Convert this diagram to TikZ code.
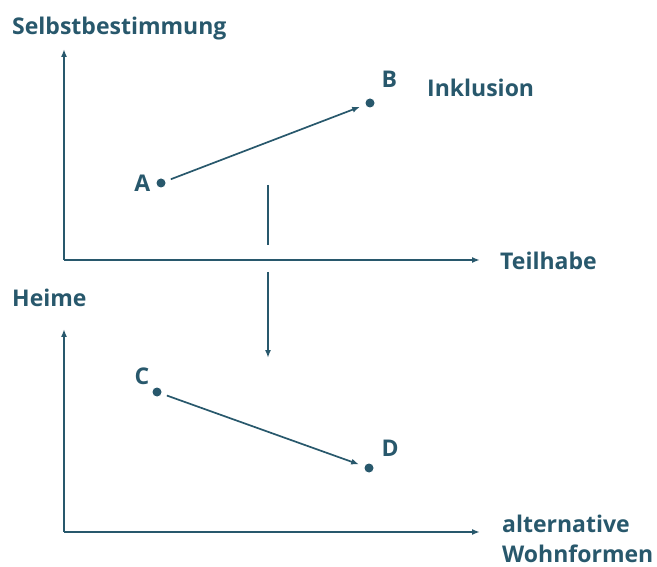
\documentclass[tikz,border=0pt]{standalone}
\usepackage{fontspec}
\setmainfont{Open Sans}
\usetikzlibrary{arrows.meta,positioning}
\definecolor{tealink}{RGB}{40,88,108}

\begin{document}
\begin{tikzpicture}[x=1pt, y=-1pt,
  font=\bfseries\fontsize{23}{30}\selectfont, color=tealink,
  axis/.style={-{Latex[length=8pt,width=6pt]}, line width=2pt, color=tealink},
  arr/.style={-{Latex[length=8pt,width=6pt]}, line width=1.7pt, color=tealink},
  dot/.style={circle, fill=tealink, inner sep=0pt, minimum size=9pt, outer sep=6pt},
  txt/.style={inner sep=0pt, anchor=west, text=tealink}]
\useasboundingbox (0,0) rectangle (657,567);
% upper diagram
\coordinate (O1) at (64,260);
\coordinate (Y1) at (64,49);
\coordinate (X1) at (480,260);
\draw[axis] (O1) -- (Y1);
\draw[axis] (O1) -- (X1);
\node[txt] (self) at (12,29) {Selbstbestimmung};
\node[txt] (teil) at (500,261) {Teilhabe};
\node[txt] (inkl) at (427,88) {Inklusion};
\node[dot, label={[inner sep=0pt]left=17pt:A}] (A) at (161,183) {};
\node[dot, label={[inner sep=0pt, xshift=4pt, yshift=8pt]above right=6pt:B}] (B) at (370,103) {};
\draw[arr] (A) -- (B);
% transition
\coordinate (T1) at (268,185);
\coordinate (T2) at (268,245);
\coordinate (T3) at (268,272);
\coordinate (T4) at (268,358);
\draw[line width=1.7pt] (T1) -- (T2);
\draw[arr] (T3) -- (T4);
% lower diagram
\coordinate (O2) at (64,532);
\coordinate (Y2) at (64,329);
\coordinate (X2) at (480,532);
\draw[axis] (O2) -- (Y2);
\draw[axis] (O2) -- (X2);
\node[txt] (heim) at (12,298) {Heime};
\node[txt, align=left] (wohn) at (502,539) {alternative\\Wohnformen};
\node[dot, label={[inner sep=0pt]above left=2pt:C}] (C) at (157,392) {};
\node[dot, label={[inner sep=0pt, xshift=5pt, yshift=4pt]above right=6pt:D}] (D) at (369,468) {};
\draw[arr] (C) -- (D);
\end{tikzpicture}
\end{document}
